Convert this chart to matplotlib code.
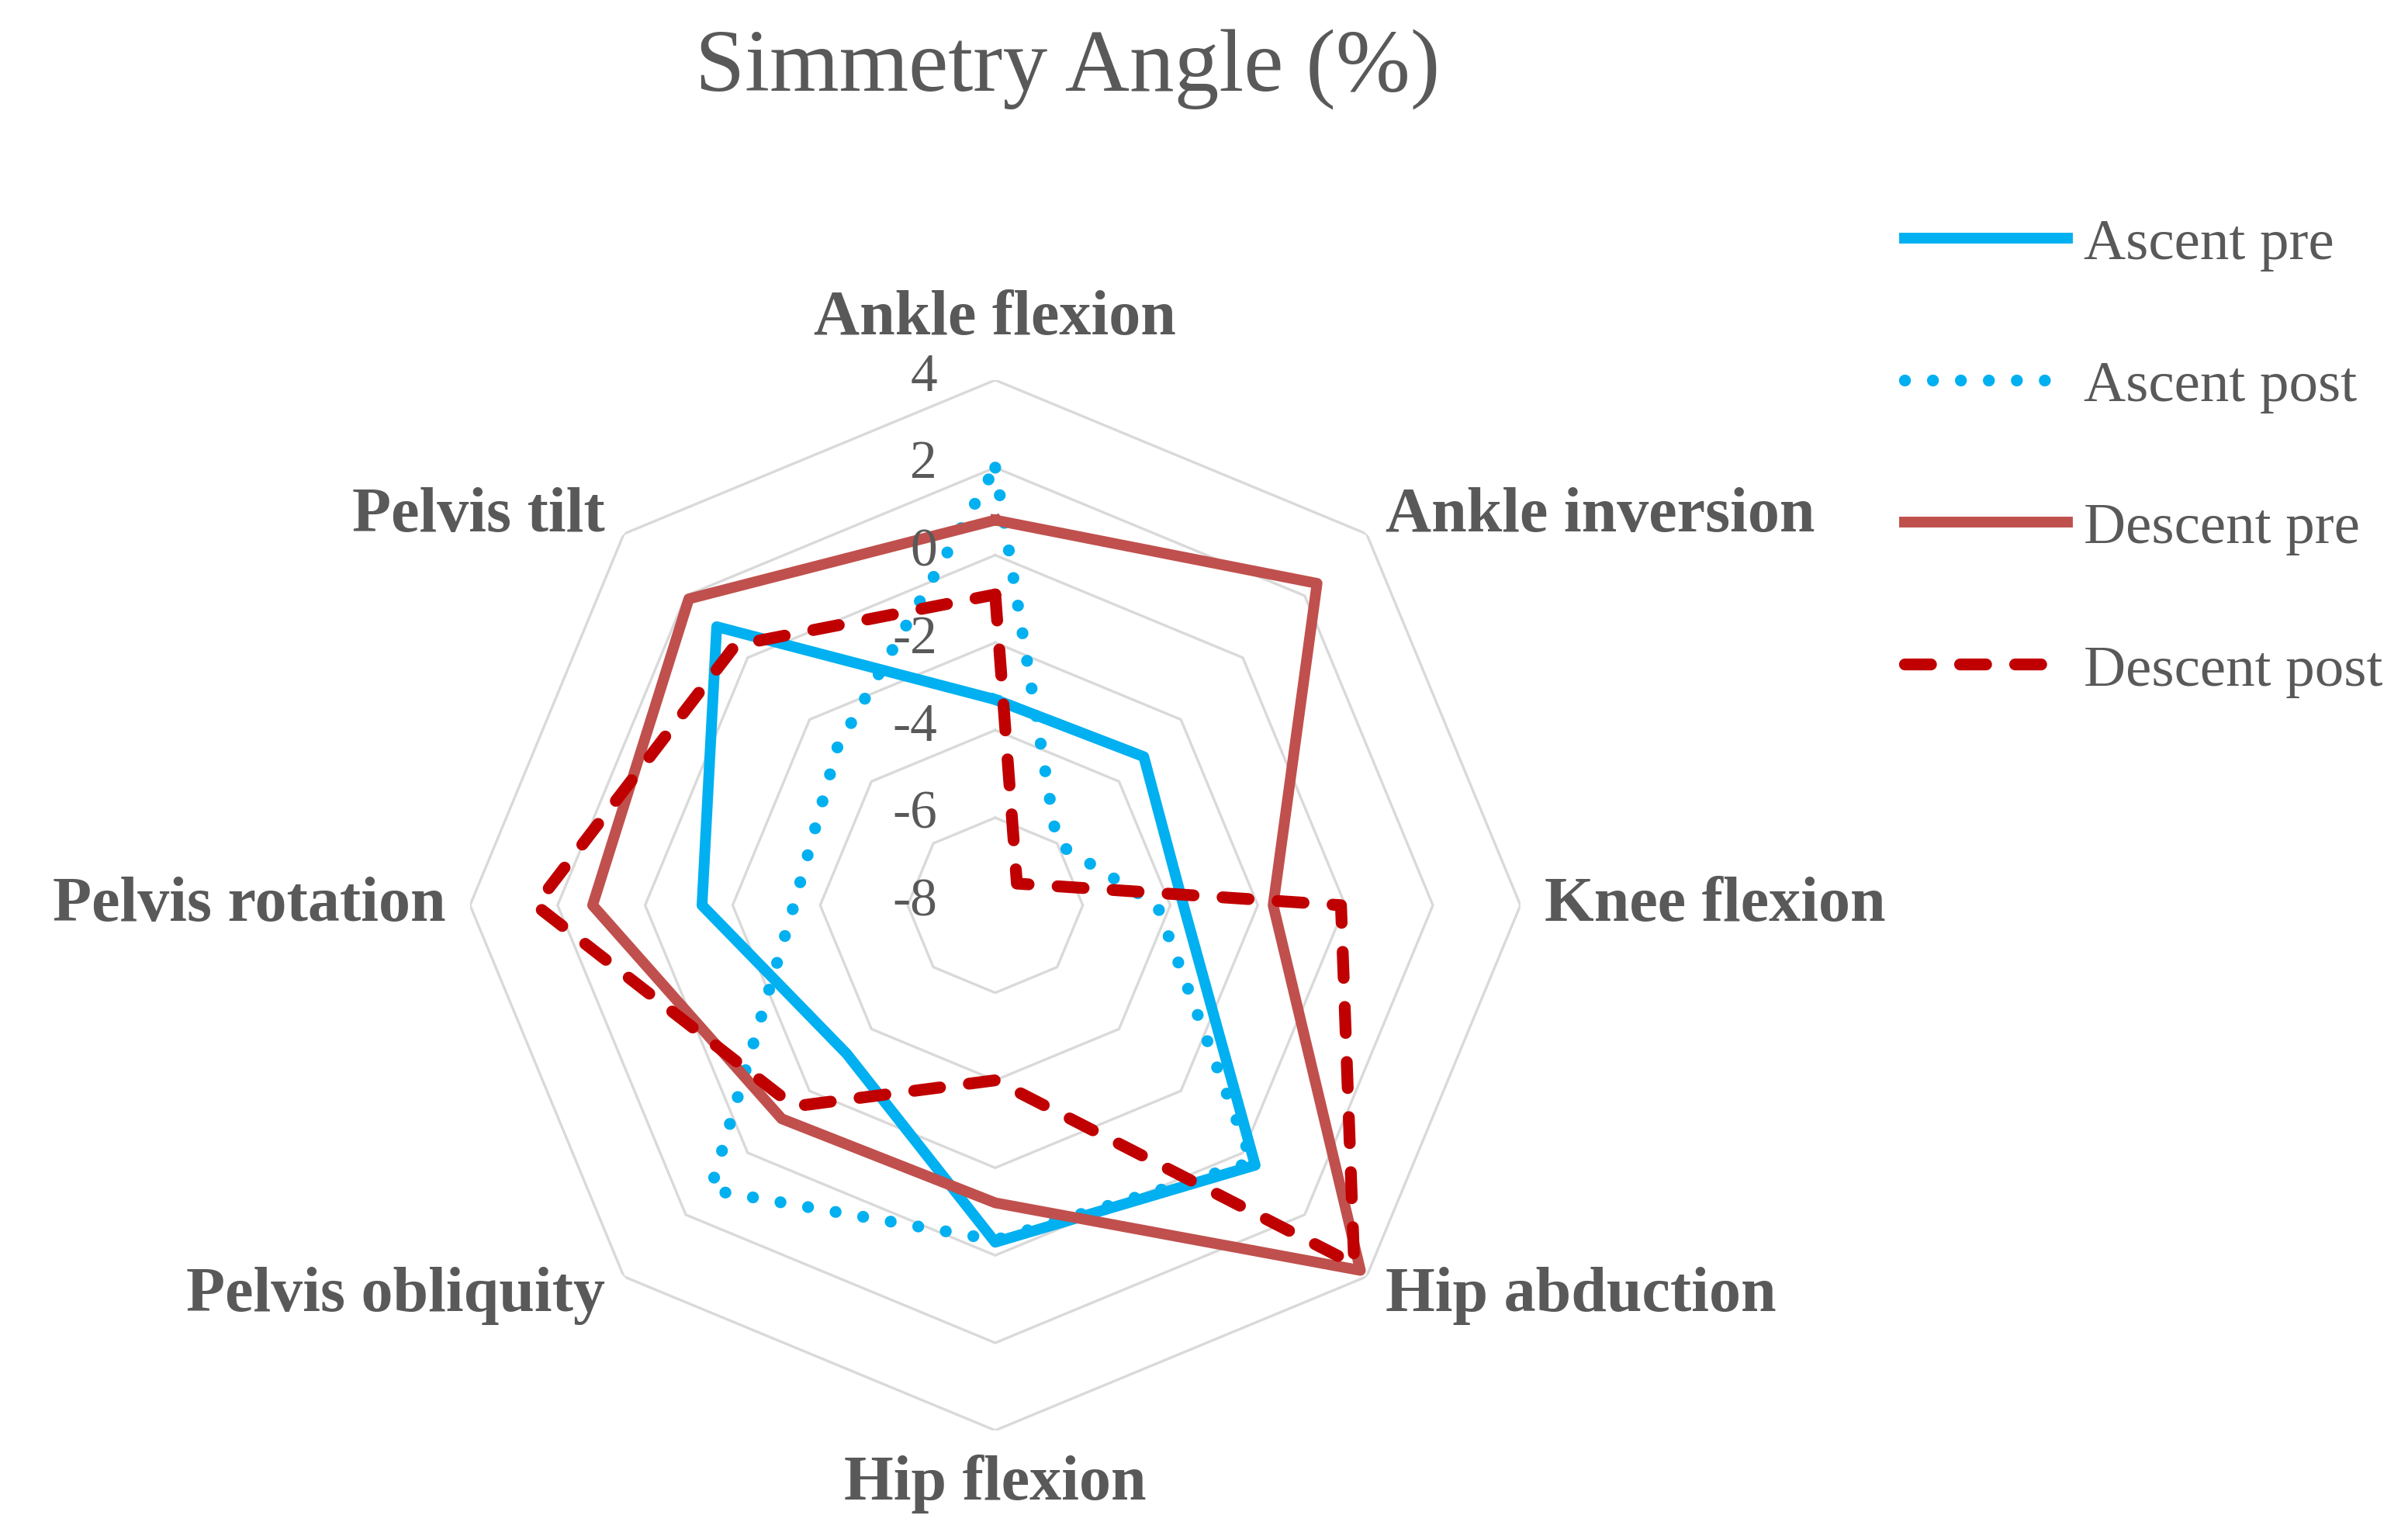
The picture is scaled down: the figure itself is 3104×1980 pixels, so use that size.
import numpy as np
import matplotlib.pyplot as plt
from matplotlib.transforms import ScaledTranslation

plt.rcParams['font.family'] = ['Liberation Serif', 'DejaVu Serif']

# axes order: clockwise from the top
categories = ['Ankle flexion', 'Ankle inversion', 'Knee flexion', 'Hip abduction',
              'Hip flexion', 'Pelvis obliquity', 'Pelvis rotation', 'Pelvis tilt']

ascent_pre = [-3.3, -3.2, -3.7, 0.4, -0.3, -3.2, -1.3, 1.0]
ascent_post = [2.0, -6.0, -4.3, 0.3, -0.35, 1.2, -3.4, -2.9]
descent_pre = [0.8, 2.4, -1.65, 3.8, -1.2, -1.1, 1.2, 1.9]
descent_post = [-0.9, -7.3, -0.1, 3.6, -4.0, -1.5, 2.5, 0.4]

series_names = ['Ascent pre', 'Ascent post', 'Descent pre', 'Descent post']
ticks = [-8, -6, -4, -2, 0, 2, 4]

gray = '#595959'
n = len(categories)
theta = np.linspace(0, 2 * np.pi, n + 1)


def closed(vals):
    return list(vals) + [vals[0]]


fig = plt.figure(figsize=(31.04, 19.81), dpi=100)
ax = fig.add_axes([0.1952, 0.0687, 0.4362, 0.6835], projection='polar')
ax.set_theta_zero_location('N')
ax.set_theta_direction(-1)

# octagon grid rings
for v in ticks[1:]:
    ax.plot(theta, [v] * (n + 1), color='#D9D9D9', lw=2.4, zorder=1)

styles = [
    dict(color='#00B0F0', lw=10, ls='-', solid_joinstyle='round'),
    dict(color='#00B0F0', lw=11, ls=(0, (0.01, 2.35)), dash_capstyle='round'),
    dict(color='#C0504D', lw=10, ls='-', solid_joinstyle='round'),
    dict(color='#C00000', lw=11, ls=(0, (2.2, 2.45)), dash_capstyle='round',
         dash_joinstyle='round'),
]
for vals, name, st in zip([ascent_pre, ascent_post, descent_pre, descent_post],
                          series_names, styles):
    ax.plot(theta, closed(vals), label=name, zorder=3, **st)

ax.set_ylim(-8, 4)
ax.grid(False)
ax.set_xticks([])
ax.set_yticks([])
ax.spines['polar'].set_visible(False)

# value labels along the top axis
off = ax.transData + ScaledTranslation(-0.75, 0.04, fig.dpi_scale_trans)
for v in ticks:
    ax.text(0, v, str(v), transform=off, ha='right', va='center',
            fontsize=50, color=gray)

# category labels
for ang, lab in zip(theta[:-1], categories):
    s = np.sin(ang)
    c = np.cos(ang)
    if abs(s) < 0.1:
        ha = 'center'
        r = 5.4 if c > 0 else 5.2
    else:
        ha = 'left' if s > 0 else 'right'
        r = 4.6 if abs(c) > 0.1 else 4.55
    ax.text(ang, r, lab, ha=ha, va='center', fontsize=59, fontweight='bold',
            color=gray, clip_on=False)

fig.text(0.4433, 0.955, 'Simmetry Angle (%)', ha='center', va='center',
         fontsize=83, color=gray)

leg = fig.legend(loc='upper left', bbox_to_anchor=(0.791, 0.858), frameon=False,
                 fontsize=54, handlelength=2.8, handletextpad=0.27,
                 labelspacing=1.53, borderpad=0, borderaxespad=0)
for t in leg.get_texts():
    t.set_color(gray)

fig.savefig('out.png', dpi=100)
